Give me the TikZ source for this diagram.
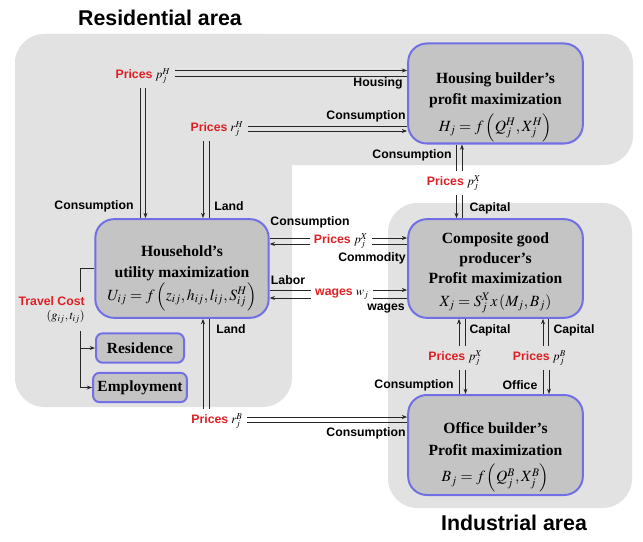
\documentclass[tikz,border=0pt]{standalone}
\usepackage{mathptmx}
\usepackage{fontspec}
\setmainfont{Liberation Serif}
\setsansfont{Liberation Sans}
\usetikzlibrary{calc}
\usetikzlibrary{arrows.meta}

\definecolor{areagray}{RGB}{226,226,226}
\definecolor{boxgray}{RGB}{196,196,196}
\definecolor{boxblue}{RGB}{112,112,228}
\definecolor{pricered}{RGB}{222,32,36}

\tikzset{
  area/.style={fill=areagray, rounded corners=22pt},
  modelbox/.style={draw=boxblue, line width=1.5pt, fill=boxgray, rounded corners=14pt},
  smallbox/.style={draw=boxblue, line width=1.5pt, fill=boxgray, rounded corners=5pt,
    minimum width=66pt, minimum height=22pt, font=\bfseries\fontsize{11.6}{13}\selectfont},
  boxtext/.style={font=\bfseries\fontsize{11.7}{16}\selectfont, align=center},
  areatitle/.style={font=\sffamily\bfseries\fontsize{16}{19}\selectfont},
  flowlabel/.style={font=\sffamily\bfseries\fontsize{9.2}{11}\selectfont, inner sep=1pt},
  pricelabel/.style={font=\fontsize{9.2}{11}\selectfont, inner sep=3pt},
  flow/.style={draw=black!85, line width=0.7pt},
  flowto/.style={flow, -{Stealth[length=4pt,width=3pt]}}
}
\newcommand{\pricetag}[1]{\textcolor{pricered}{\sffamily\bfseries #1}}

\begin{document}
\begin{tikzpicture}[x=0.75pt, y=-0.75pt]
  \useasboundingbox (0,0) rectangle (643,542);
  \fill[area] (15,34) rectangle (633,165);
  \fill[area] (15,34) rectangle (292,407);
  \fill[area] (388,203) rectangle (632,508);
  \node[areatitle] (resTitle) at (160,18) {Residential area};
  \node[areatitle] (indTitle) at (514,523) {Industrial area};

  \node[modelbox, minimum width=131pt, minimum height=75pt] (hb) at (495.5,93.5) {};
  \node[boxtext] (hbText) at (495.5,107) {Housing builder's\\profit maximization\\[4pt]$H_j=f\left(Q_j^H,X_j^H\right)$};
  \node[modelbox, minimum width=130pt, minimum height=74pt] (hh) at (182,268.5) {};
  \node[boxtext] (hhText) at (182,278) {Household's\\utility maximization\\[1pt]$U_{ij}=f\left(z_{ij},h_{ij},l_{ij},S_{ij}^H\right)$};
  \node[modelbox, minimum width=131pt, minimum height=74pt] (cg) at (495.5,268.5) {};
  \node[boxtext, font=\bfseries\fontsize{11.7}{15}\selectfont] (cgText) at (495.5,273) {Composite good\\producer's\\Profit maximization\\[2pt]$X_j=S_j^X x\left(M_j,B_j\right)$};
  \node[modelbox, minimum width=131pt, minimum height=75pt] (ob) at (495.5,445) {};
  \node[boxtext] (obText) at (495.5,457.5) {Office builder's\\Profit maximization\\[4pt]$B_j=f\left(Q_j^B,X_j^B\right)$};
  \node[smallbox] (res) at (140,348) {Residence};
  \node[smallbox] (emp) at (140,387.5) {Employment};

  \node[pricelabel] (pH) at (143,76) {\pricetag{Prices} $p_j^H$};
  \node[pricelabel] (rH) at (217,129) {\pricetag{Prices} $r_j^H$};
  \node[pricelabel] (pXa) at (454,183) {\pricetag{Prices} $p_j^X$};
  \node[pricelabel] (pXb) at (341,241) {\pricetag{Prices} $p_j^X$};
  \node[pricelabel] (wJ) at (342,294) {\pricetag{wages} $w_j$};
  \node[pricelabel] (pXc) at (455.5,358) {\pricetag{Prices} $p_j^X$};
  \node[pricelabel] (pB) at (539.5,358) {\pricetag{Prices} $p_j^B$};
  \node[pricelabel] (rB) at (217,421) {\pricetag{Prices} $r_j^B$};
  \node[pricelabel, align=right, anchor=east] (tc) at (89,310) {\pricetag{Travel Cost}\\$\left(g_{ij},t_{ij}\right)$};

  \node[flowlabel] (lHousing) at (378,83) {Housing};
  \node[flowlabel] (lConsA) at (366,116) {Consumption};
  \node[flowlabel] (lConsB) at (412,155) {Consumption};
  \node[flowlabel] (lCapA) at (490,208) {Capital};
  \node[flowlabel] (lConsC) at (94,206) {Consumption};
  \node[flowlabel] (lLandA) at (229,206) {Land};
  \node[flowlabel] (lConsD) at (310,222) {Consumption};
  \node[flowlabel] (lComm) at (372,258) {Commodity};
  \node[flowlabel] (lLabor) at (288,280) {Labor};
  \node[flowlabel] (lWages) at (386,308) {wages};
  \node[flowlabel] (lCapB) at (490,330) {Capital};
  \node[flowlabel] (lCapC) at (574,330) {Capital};
  \node[flowlabel] (lConsE) at (414,385) {Consumption};
  \node[flowlabel] (lOffice) at (520,385) {Office};
  \node[flowlabel] (lLandB) at (231,329) {Land};
  \node[flowlabel] (lConsF) at (366,433) {Consumption};

  \draw[flowto] ($(pH.east)+(0,-5.5)$) -- ($(pH.east -| hb.west)+(0,-5.5)$);
  \draw[flow] (pH.east) -- (pH.east -| hb.west);
  \draw[flow] ($(pH.south)+(-2.5,0)$) -- ($(pH.south |- hh.north)+(-2.5,0)$);
  \draw[flowto] ($(pH.south)+(2.5,0)$) -- ($(pH.south |- hh.north)+(2.5,0)$);

  \draw[flow] ($(rH.east)+(0,-3)$) -- ($(rH.east -| hb.west)+(0,-3)$);
  \draw[flowto] ($(rH.east)+(0,2)$) -- ($(rH.east -| hb.west)+(0,2)$);
  \draw[flowto] ($(rH.south)+(-14,0)$) -- ($(rH.south |- hh.north)+(-14,0)$);
  \draw[flow] ($(rH.south)+(-8,0)$) -- ($(rH.south |- hh.north)+(-8,0)$);

  \draw[flow] ($(pXa.north)+(2.5,0)$) -- ($(pXa.north |- hb.south)+(2.5,0)$);
  \draw[flowto] ($(pXa.north)+(8,0)$) -- ($(pXa.north |- hb.south)+(8,0)$);
  \draw[flowto] ($(pXa.south)+(2.5,0)$) -- ($(pXa.south |- cg.north)+(2.5,0)$);
  \draw[flow] ($(pXa.south)+(8,0)$) -- ($(pXa.south |- cg.north)+(8,0)$);

  \draw[flow] ($(pXb.west)+(0,-3)$) -- ($(pXb.west -| hh.east)+(0,-3)$);
  \draw[flowto] ($(pXb.west)+(0,3)$) -- ($(pXb.west -| hh.east)+(0,3)$);
  \draw[flowto] ($(pXb.east)+(0,-3)$) -- ($(pXb.east -| cg.west)+(0,-3)$);
  \draw[flow] ($(pXb.east)+(0,3)$) -- ($(pXb.east -| cg.west)+(0,3)$);

  \draw[flow] ($(wJ.west)+(0,-4)$) -- ($(wJ.west -| hh.east)+(0,-4)$);
  \draw[flowto] ($(wJ.west)+(0,4)$) -- ($(wJ.west -| hh.east)+(0,4)$);
  \draw[flowto] ($(wJ.east)+(0,-4)$) -- ($(wJ.east -| cg.west)+(0,-4)$);
  \draw[flow] ($(wJ.east)+(0,4)$) -- ($(wJ.east -| cg.west)+(0,4)$);

  \draw[flowto] ($(pXc.north)+(3.5,0)$) -- ($(pXc.north |- cg.south)+(3.5,0)$);
  \draw[flow] ($(pXc.north)+(9.5,0)$) -- ($(pXc.north |- cg.south)+(9.5,0)$);
  \draw[flow] ($(pXc.south)+(3.5,0)$) -- ($(pXc.south |- ob.north)+(3.5,0)$);
  \draw[flowto] ($(pXc.south)+(10,0)$) -- ($(pXc.south |- ob.north)+(10,0)$);

  \draw[flowto] ($(pB.north)+(3.5,0)$) -- ($(pB.north |- cg.south)+(3.5,0)$);
  \draw[flow] ($(pB.north)+(9,0)$) -- ($(pB.north |- cg.south)+(9,0)$);
  \draw[flow] ($(pB.south)+(3.5,0)$) -- ($(pB.south |- ob.north)+(3.5,0)$);
  \draw[flowto] ($(pB.south)+(9.5,0)$) -- ($(pB.south |- ob.north)+(9.5,0)$);

  \draw[flowto] ($(rB.north)+(-14,0)$) -- ($(rB.north |- hh.south)+(-14,0)$);
  \draw[flow] ($(rB.north)+(-8,0)$) -- ($(rB.north |- hh.south)+(-8,0)$);
  \draw[flowto] ($(rB.east)+(0,-4)$) -- ($(rB.east -| ob.west)+(0,-4)$);
  \draw[flow] ($(rB.east)+(0,1)$) -- ($(rB.east -| ob.west)+(0,1)$);

  \coordinate (tcTop) at (80,292);
  \coordinate (tcBot) at (80,331);
  \draw[flow] (hh.west) -| (tcTop);
  \draw[flowto] (tcBot) |- (res.west);
  \draw[flowto] (tcBot) |- (emp.west);
\end{tikzpicture}
\end{document}
